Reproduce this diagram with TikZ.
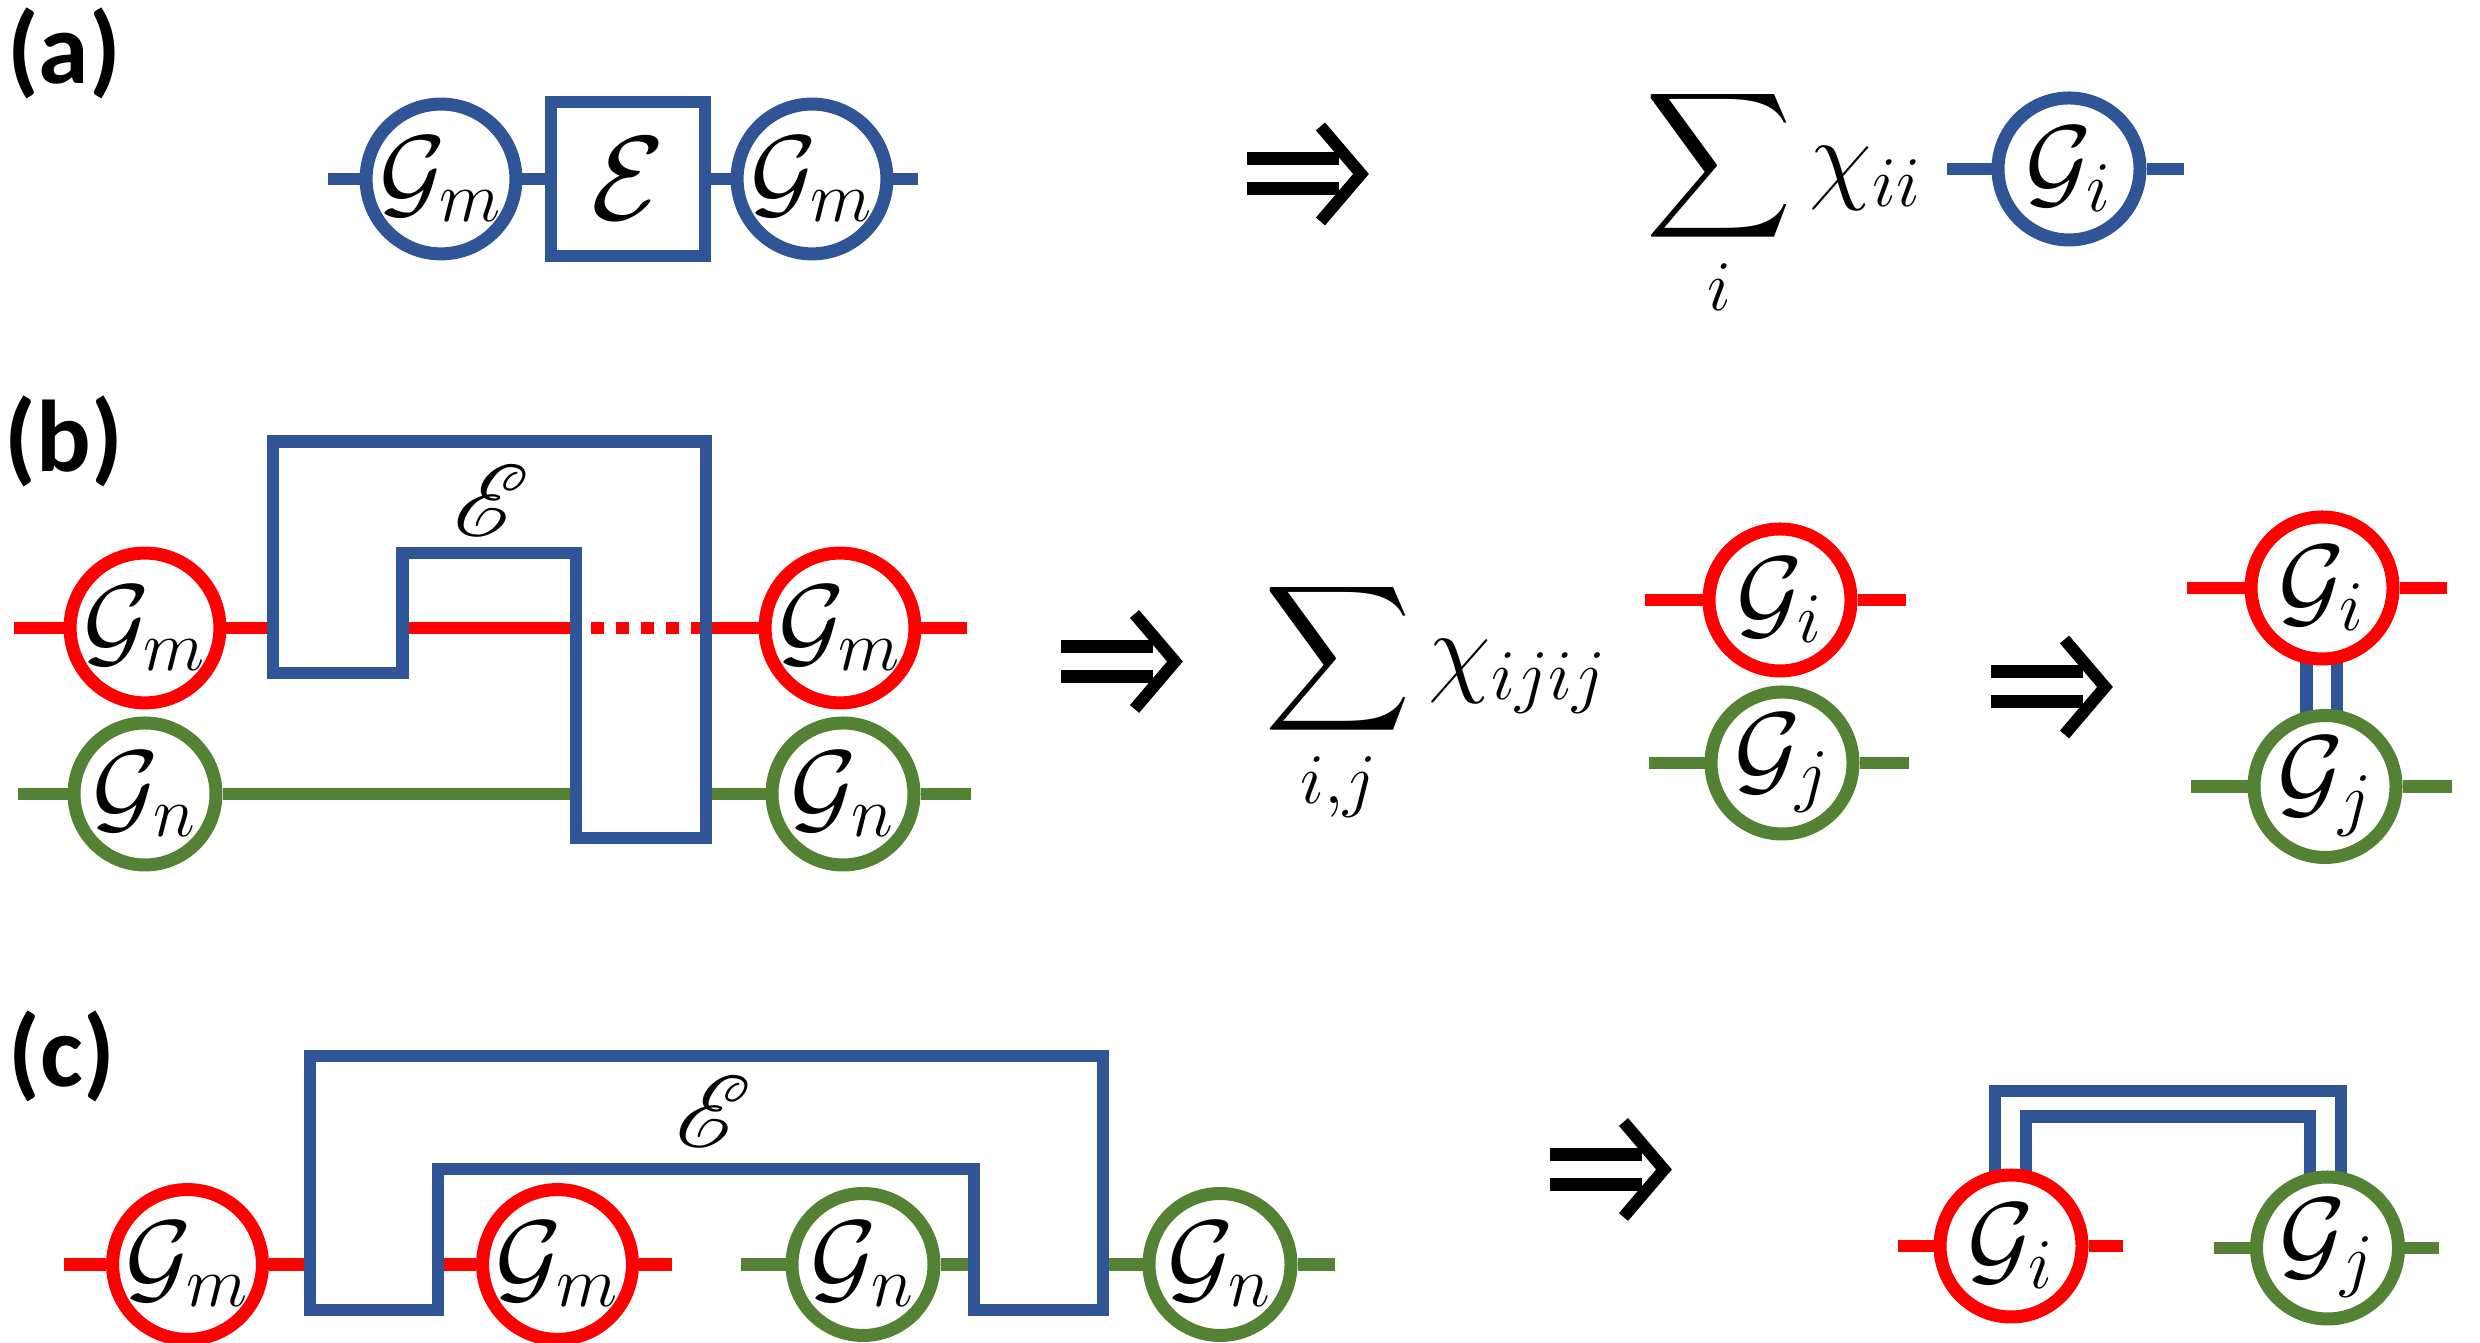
\RequirePackage{fix-cm}
\documentclass[tikz,border=0pt]{standalone}
\usepackage{fontspec}
\usepackage{amsmath, amssymb}
\usetikzlibrary{backgrounds, calc}
\newfontfamily\panelfont{Carlito}
\DeclareFontFamily{U}{rsfsx}{\skewchar\font=127}
\DeclareFontShape{U}{rsfsx}{m}{n}{<-> rsfs10}{}
\DeclareMathAlphabet{\mathscr}{U}{rsfsx}{m}{n}
\definecolor{tnblue}{RGB}{47, 85, 151}
\definecolor{tnred}{RGB}{255, 0, 0}
\definecolor{tngreen}{RGB}{84, 130, 53}

\begin{document}
\begin{tikzpicture}[every node/.style={font=\fontsize{29}{35}\selectfont},
  site/.style={circle, draw, fill=white, line width=1.3mm, minimum size=1.42cm, inner sep=0pt},
  leg/.style={line width=1.25mm},
  chan/.style={draw=tnblue, line width=1.25mm, line join=miter},
  panel/.style={font=\panelfont\bfseries\fontsize{29}{34}\selectfont, inner sep=0pt},
  implies/.pic={
    \fill (0,0.085) rectangle (0.92,0.215);
    \fill (0,-0.085) rectangle (0.92,-0.215);
    \draw[line width=1.2mm] (0.735,0.475) -- (1.14,0) -- (0.735,-0.475);
  }]
\useasboundingbox (0,0) rectangle (24.8,13.43);

% ── (a): one channel between two sites ──────────────────────────
\node[panel] (labA) at (0.64,12.90) {(a)};
\node[site, draw=tnblue] (gmA1) at (4.41,11.64) {$\mathcal{G}_m$};
\node[draw=tnblue, line width=1.25mm, minimum size=1.54cm, inner sep=0pt,
  font=\fontsize{34}{40}\selectfont] (chA) at (6.28,11.64) {$\mathcal{E}$};
\node[site, draw=tnblue] (gmA2) at (8.12,11.64) {$\mathcal{G}_m$};
\coordinate (aL) at (3.28,11.64);
\coordinate (aR) at (9.18,11.64);
\draw[leg, tnblue] (aL) -- (gmA1) (gmA1) -- (chA) (chA) -- (gmA2) (gmA2) -- (aR);

\pic at (12.47,11.69) {implies};

\node[anchor=base west, inner sep=0pt] (sumA) at (16.45,11.52)
  {$\displaystyle\sum_{i}\chi_{ii}$};
\node[site, draw=tnblue] (giA) at (20.69,11.74) {$\mathcal{G}_i$};
\coordinate (aL2) at (19.47,11.74);
\coordinate (aR2) at (21.84,11.74);
\draw[leg, tnblue] (aL2) -- (giA) -- (aR2);

% ── (b): channel acting on two rows ─────────────────────────────
\node[panel] (labB) at (0.64,9.02) {(b)};
\node[site, draw=tnred] (gmB1) at (1.45,7.15) {$\mathcal{G}_m$};
\node[site, draw=tnred] (gmB2) at (8.40,7.15) {$\mathcal{G}_m$};
\node[site, draw=tngreen] (gnB1) at (1.45,5.49) {$\mathcal{G}_n$};
\node[site, draw=tngreen] (gnB2) at (8.43,5.49) {$\mathcal{G}_n$};
\coordinate (bEL) at (2.73,9.015);
\coordinate (bEi) at (4.025,7.90);
\coordinate (bEm) at (5.76,7.90);
\coordinate (bER) at (7.06,9.015);
\coordinate (bRl) at (0.14,7.15);
\coordinate (bRr) at (9.67,7.15);
\coordinate (bGl) at (0.18,5.49);
\coordinate (bGr) at (9.71,5.49);
\draw[leg, tnred] (bRl) -- (gmB1) (gmB1) -- (gmB1 -| bEL)
  (gmB1 -| bEi) -- (gmB1 -| bEm)
  (gmB2) -- (gmB2 -| bER) (gmB2) -- (bRr);
\draw[leg, tnred, dash pattern=on 1.25mm off 1.25mm, dash phase=1mm]
  (gmB1 -| bEm) -- (gmB1 -| bER);
\draw[leg, tngreen] (bGl) -- (gnB1) (gnB1) -- (gnB1 -| bEm)
  (gnB2) -- (gnB2 -| bER) (gnB2) -- (bGr);
\draw[chan] (bEL) -- (bER) -- (7.06,5.05) -- (5.76,5.05) -- (bEm) -- (bEi)
  -- (4.025,6.70) -- (2.73,6.70) -- cycle;
\node (eB) at (4.92,8.42) {$\mathscr{E}$};

\pic at (10.61,6.815) {implies};

\node[anchor=base west, inner sep=0pt] (sumB) at (12.64,6.59)
  {$\displaystyle\sum_{i,j}\chi_{ijij}$};
\node[site, draw=tnred] (giB) at (17.80,7.43) {$\mathcal{G}_i$};
\node[site, draw=tngreen] (gjB) at (17.82,5.80) {$\mathcal{G}_j$};
\coordinate (bL1) at (16.45,7.43);
\coordinate (bR1) at (19.06,7.43);
\coordinate (bL2) at (16.49,5.80);
\coordinate (bR2) at (19.09,5.80);
\draw[leg, tnred] (bL1) -- (giB) -- (bR1);
\draw[leg, tngreen] (bL2) -- (gjB) -- (bR2);

\pic at (19.91,6.56) {implies};

\node[site, draw=tnred] (giB2) at (23.22,7.55) {$\mathcal{G}_i$};
\node[site, draw=tngreen] (gjB2) at (23.25,5.565) {$\mathcal{G}_j$};
\coordinate (bL3) at (21.87,7.55);
\coordinate (bR3) at (24.47,7.55);
\coordinate (bL4) at (21.91,5.565);
\coordinate (bR4) at (24.52,5.565);
\draw[leg, tnred] (bL3) -- (giB2) -- (bR3);
\draw[leg, tngreen] (bL4) -- (gjB2) -- (bR4);
\begin{scope}[on background layer]
  \draw[leg, tnblue] ([xshift=-1.55mm]giB2.center) -- ([xshift=-1.55mm]giB2.center |- gjB2.center);
  \draw[leg, tnblue] ([xshift=1.5mm]giB2.center) -- ([xshift=1.5mm]giB2.center |- gjB2.center);
\end{scope}

% ── (c): channel across distant sites ───────────────────────────
\node[panel] (labC) at (0.62,2.87) {(c)};
\node[site, draw=tnred] (gmC1) at (1.875,0.785) {$\mathcal{G}_m$};
\node[site, draw=tnred] (gmC2) at (5.575,0.785) {$\mathcal{G}_m$};
\node[site, draw=tngreen] (gnC1) at (8.63,0.785) {$\mathcal{G}_n$};
\node[site, draw=tngreen] (gnC2) at (12.20,0.785) {$\mathcal{G}_n$};
\coordinate (cEL) at (3.10,2.87);
\coordinate (cEi) at (4.38,1.74);
\coordinate (cEm) at (9.74,1.74);
\coordinate (cER) at (11.03,2.87);
\coordinate (cL1) at (0.64,0.785);
\coordinate (cR2) at (6.72,0.785);
\coordinate (cL3) at (7.41,0.785);
\coordinate (cR4) at (13.35,0.785);
\draw[leg, tnred] (cL1) -- (gmC1) (gmC1) -- (gmC1 -| cEL)
  (gmC2 -| cEi) -- (gmC2) (gmC2) -- (cR2);
\draw[leg, tngreen] (cL3) -- (gnC1) (gnC1) -- (gnC1 -| cEm)
  (gnC2 -| cER) -- (gnC2) (gnC2) -- (cR4);
\draw[chan] (cEL) -- (cER) -- (11.03,0.33) -- (9.74,0.33) -- (cEm) -- (cEi)
  -- (4.38,0.33) -- (3.10,0.33) -- cycle;
\node (eC) at (7.14,2.31) {$\mathscr{E}$};

\pic at (15.50,1.735) {implies};

\node[site, draw=tnred] (giC) at (20.11,0.97) {$\mathcal{G}_i$};
\node[site, draw=tngreen] (gjC) at (23.275,0.95) {$\mathcal{G}_j$};
\coordinate (cL5) at (18.98,0.97);
\coordinate (cR5) at (21.23,0.97);
\coordinate (cL6) at (22.14,0.95);
\coordinate (cR6) at (24.39,0.95);
\draw[leg, tnred] (cL5) -- (giC) -- (cR5);
\draw[leg, tngreen] (cL6) -- (gjC) -- (cR6);
\coordinate (cTopO) at (21.7,2.52);
\coordinate (cTopI) at (21.7,2.265);
\begin{scope}[on background layer]
  \draw[leg, tnblue] ([xshift=-1.6mm]giC.center) |- (cTopO) -| ([xshift=1.35mm]gjC.center);
  \draw[leg, tnblue] ([xshift=1.5mm]giC.center) |- (cTopI) -| ([xshift=-1.75mm]gjC.center);
\end{scope}
\end{tikzpicture}
\end{document}
